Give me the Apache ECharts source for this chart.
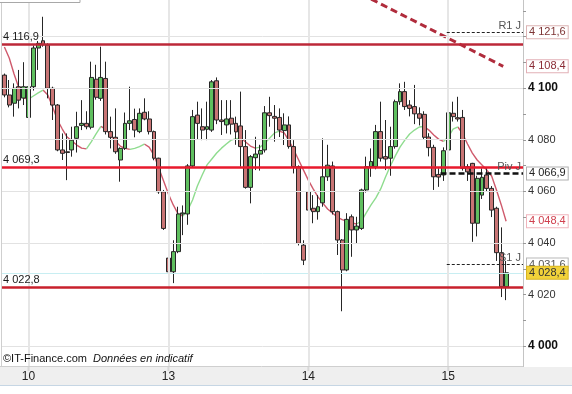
<!DOCTYPE html>
<html><head><meta charset="utf-8">
<script src="https://cdn.jsdelivr.net/npm/echarts@6/dist/echarts.min.js"></script>
<style>html,body{margin:0;padding:0;background:#fff;overflow:hidden}#c{width:572px;height:394px}</style>
</head><body><div id="c"></div>
<script>
// ---- data ----
const dayLabels = ['10', '13', '14', '15'];
const dayStartIdx = [5, 34, 63, 92];
const opens = [4105.0,4097.3,4094.1,4100.5,4096.1,4088.6,4100.5,4115.5,4118.3,4116.7,4099.9,4093.4,4076.0,4075.3,4076.0,4080.5,4085.5,4086.3,4084.8,4103.4,4096.0,4103.7,4083.1,4080.9,4072.1,4076.6,4086.3,4087.8,4083.1,4090.6,4088.0,4083.1,4072.8,4059.8,4034.1,4028.8,4036.6,4051.2,4051.2,4069.8,4089.5,4085.0,4084.0,4083.7,4102.8,4087.6,4085.7,4088.3,4086.3,4085.3,4077.3,4061.5,4073.0,4074.4,4076.0,4090.4,4089.0,4088.6,4083.5,4085.7,4077.3,4069.5,4039.1,4059.8,4053.4,4052.1,4055.5,4065.6,4069.8,4052.1,4041.1,4029.5,4050.1,4045.0,4045.6,4060.5,4069.5,4069.5,4083.1,4073.4,4072.8,4077.3,4094.7,4098.6,4093.4,4092.8,4090.0,4089.8,4081.0,4077.0,4066.5,4066.3,4076.0,4090.2,4088.5,4088.6,4069.5,4070.8,4047.6,4058.5,4066.3,4061.1,4053.4,4036.2,4023.0];
const highs = [4105.6,4103.1,4101.8,4107.0,4110.0,4101.5,4116.5,4118.2,4127.6,4117.3,4100.5,4093.8,4082.4,4082.4,4085.0,4090.8,4095.3,4091.0,4110.2,4109.0,4116.0,4110.2,4088.9,4092.1,4077.0,4090.5,4100.5,4092.0,4092.1,4096.0,4091.0,4083.5,4073.0,4060.5,4034.5,4041.0,4054.0,4054.5,4070.5,4091.5,4094.7,4092.1,4094.7,4103.1,4104.1,4095.3,4095.3,4095.3,4088.9,4098.6,4083.7,4074.0,4081.1,4078.0,4093.0,4096.6,4093.4,4092.1,4090.2,4089.0,4079.8,4070.0,4041.0,4068.9,4058.5,4058.5,4080.5,4078.0,4071.5,4052.5,4041.5,4051.5,4051.0,4050.1,4061.0,4073.4,4076.6,4085.7,4094.7,4087.6,4085.0,4095.5,4101.8,4102.4,4095.3,4101.2,4092.5,4091.0,4082.5,4078.0,4068.9,4077.0,4091.5,4094.7,4096.6,4091.5,4070.5,4071.0,4066.0,4068.9,4068.9,4062.0,4054.0,4046.0,4033.0];
const lows = [4096.4,4092.5,4088.9,4092.1,4093.4,4086.4,4099.0,4107.0,4116.0,4096.0,4087.6,4075.5,4072.1,4064.3,4073.4,4075.0,4083.7,4084.0,4084.0,4095.5,4095.0,4082.0,4076.6,4074.5,4063.7,4076.0,4083.7,4080.9,4082.5,4087.5,4082.0,4072.0,4059.0,4045.0,4013.5,4024.4,4036.0,4043.0,4047.0,4069.0,4080.0,4079.8,4079.8,4083.0,4086.0,4081.8,4082.4,4082.0,4078.0,4069.5,4061.0,4055.3,4068.2,4068.0,4075.0,4085.0,4079.2,4081.0,4077.9,4076.5,4066.9,4039.0,4031.4,4048.2,4047.6,4049.0,4054.0,4064.0,4051.0,4035.3,4013.5,4029.0,4034.6,4039.8,4045.0,4059.5,4065.6,4068.5,4071.5,4068.2,4066.0,4076.5,4093.5,4091.5,4089.0,4086.0,4085.5,4080.0,4073.5,4060.5,4061.7,4064.0,4075.5,4087.0,4087.0,4068.0,4064.0,4040.4,4042.5,4057.0,4060.0,4050.0,4033.0,4019.0,4017.8];
const closes = [4097.3,4093.4,4099.9,4095.3,4100.5,4100.5,4115.5,4117.3,4116.7,4099.9,4093.4,4076.0,4074.7,4075.0,4079.8,4085.0,4086.3,4085.0,4104.1,4096.4,4104.1,4083.1,4080.9,4075.3,4076.6,4086.3,4087.3,4083.7,4090.2,4088.0,4083.1,4072.8,4059.8,4045.6,4028.8,4036.6,4051.2,4051.6,4069.8,4088.9,4086.3,4083.7,4085.0,4102.4,4087.6,4087.0,4088.0,4086.0,4083.0,4077.3,4061.5,4073.4,4074.4,4075.8,4090.4,4089.3,4088.3,4083.7,4085.7,4077.3,4069.5,4039.8,4033.3,4052.7,4052.1,4054.0,4065.6,4070.1,4052.1,4041.1,4029.5,4049.1,4045.0,4046.5,4060.5,4069.5,4071.5,4083.1,4072.8,4072.5,4077.3,4094.7,4098.6,4092.8,4092.1,4090.0,4088.3,4080.9,4076.9,4065.6,4065.5,4075.7,4090.4,4088.9,4088.0,4068.9,4067.5,4047.6,4065.0,4065.4,4061.1,4052.7,4036.2,4023.0,4028.4];
const maValues = [4115.9,4111.6,4105.4,4100.0,4096.1,4095.7,4096.9,4098.1,4099.2,4097.3,4092.6,4087.6,4084.1,4081.0,4079.5,4077.9,4076.7,4076.4,4079.1,4082.2,4085.1,4084.1,4081.8,4079.5,4077.5,4076.6,4076.2,4076.6,4077.3,4078.3,4077.1,4074.0,4069.0,4064.0,4058.9,4054.7,4051.2,4050.4,4052.7,4056.6,4062.0,4066.3,4070.2,4072.5,4074.8,4076.7,4078.3,4079.8,4080.4,4080.6,4079.1,4077.5,4076.7,4077.1,4078.7,4080.6,4082.6,4083.3,4082.6,4079.5,4076.0,4072.1,4068.2,4064.3,4060.9,4057.8,4055.4,4053.1,4051.6,4050.0,4049.0,4048.4,4047.7,4047.3,4048.4,4051.6,4054.7,4057.4,4060.9,4065.5,4069.8,4073.6,4077.1,4079.8,4082.2,4083.7,4084.9,4085.1,4083.7,4081.8,4080.2,4079.3,4081.0,4084.1,4084.9,4082.2,4078.3,4074.8,4072.1,4070.2,4068.2,4065.9,4060.5,4054.7,4048.4];
const srLevels = [4116.9, 4069.3, 4022.8];
const pivotNames = ['R1 J', 'Piv J', 'S1 J'];
const pivotValues = [4121.6, 4066.9, 4031.6];
const pivotStartIdx = [91.7, 90.4, 91.7];
const trendPoints = [[74.0, 4136.4], [103.4, 4108.4]];
const gridLevels = [4000, 4040, 4060, 4080, 4100, 4120];
const yLabelValues = [4000, 4020, 4040, 4060, 4080, 4100];
const yBoldValues = [4000, 4100];
const yTickValues = [4000,4010,4020,4030,4040,4050,4060,4070,4080,4090,4100,4110,4120,4130];
const lastPrice = 4028.4;
const maLast = 4048.4;
const trendLast = 4108.4;

// ---- chart ----
const SLOTS = 108;
const Y_MIN = 3991.9, Y_MAX = 4134.1;
const FONT = '"Liberation Sans", Arial, sans-serif';
const cats = Array.from({length: SLOTS}, (_, i) => String(i));
const candleData = opens.map((o, i) => [o, closes[i], lows[i], highs[i]]);
const maGreen = maValues.map(() => null), maRed = maValues.map(() => null);
for (let i = 0; i < maValues.length - 1; i++) {
  const t = maValues[i + 1] >= maValues[i] ? maGreen : maRed;
  t[i] = maValues[i]; t[i + 1] = maValues[i + 1];
}
function fr(v, d) {
  const s = v.toFixed(d).split('.');
  const intp = s[0].replace(/\B(?=(\d{3})+(?!\d))/g, ' ');
  return s.length > 1 ? intp + ',' + s[1] : intp;
}
const srColors = ['#bc2838', '#e8192c', '#c8202c'];

const chart = echarts.init(document.getElementById('c'), null, {renderer: 'canvas'});
chart.setOption({
  animation: false,
  backgroundColor: '#fff',
  grid: {left: 2, right: 49, top: 0, bottom: 27},
  xAxis: [
    {type: 'category', data: cats, boundaryGap: true, axisLine: {show: false}, axisTick: {show: false}, axisLabel: {show: false}, splitLine: {show: false}},
    {type: 'value', min: -0.5, max: SLOTS - 0.5, show: false}
  ],
  yAxis: {type: 'value', min: Y_MIN, max: Y_MAX, position: 'right', axisLine: {show: false}, axisTick: {show: false}, axisLabel: {show: false}, splitLine: {show: false}},
  series: [
    {type: 'line', xAxisIndex: 1, data: [], z: 1, silent: true,
      markLine: {silent: true, symbol: ['none', 'none'], label: {show: false},
        data: gridLevels.map(v => ({yAxis: v, lineStyle: {color: '#e2e2e2', width: 1, type: 'solid'}}))
          .concat([{yAxis: lastPrice, lineStyle: {color: '#c8eef2', width: 1, type: 'solid'}}])
          .concat(dayStartIdx.map(i => ({xAxis: i, lineStyle: {color: '#e6e6e6', width: 2, type: 'solid'}})))}},
    {type: 'line', data: maRed, showSymbol: false, connectNulls: false, z: 2, silent: true,
      lineStyle: {color: '#cf5a6c', width: 1.4}},
    {type: 'line', data: maGreen, showSymbol: false, connectNulls: false, z: 2, silent: true,
      lineStyle: {color: '#8fdc8f', width: 1.4}},
    {type: 'candlestick', data: candleData, barWidth: 4.4, z: 3, silent: true,
      itemStyle: {color: '#5fbf5f', color0: '#c87474', borderColor: '#262626', borderColor0: '#262626', borderWidth: 1}},
    {type: 'line', xAxisIndex: 1, data: trendPoints, showSymbol: false, z: 4, silent: true, clip: true,
      lineStyle: {color: '#b02c3c', width: 3, type: [7, 4]}},
    {type: 'line', xAxisIndex: 1, data: [], z: 5, silent: true,
      markLine: {silent: true, symbol: ['none', 'none'],
        data: srLevels.map((v, k) => ({yAxis: v,
          lineStyle: {color: srColors[k], width: 2.6, type: 'solid'},
          label: {show: true, position: 'insideStartTop', distance: [1, 2], formatter: fr(v, 1), color: '#1a1a1a', fontSize: 11, fontFamily: FONT}}))}},
    {type: 'line', xAxisIndex: 1, data: [], z: 6, silent: true,
      markLine: {silent: true, symbol: ['none', 'none'],
        data: pivotValues.map((v, k) => [
          {coord: [pivotStartIdx[k], v],
           lineStyle: k === 1 ? {color: '#111', width: 2.5, type: [6, 3]} : {color: '#222', width: 1, type: [3, 2]},
           label: {show: true, position: 'insideEndTop', distance: [2, 1], formatter: pivotNames[k], color: '#555', fontSize: 11, fontFamily: FONT}},
          {coord: [SLOTS - 0.5, v]}])}}
  ]
});

const py = v => chart.convertToPixel({yAxisIndex: 0}, v);
const px = i => chart.convertToPixel({xAxisIndex: 1}, i);
const gTop = py(Y_MAX), gBot = py(Y_MIN), gLeft = px(-0.5), gRight = px(SLOTS - 0.5);
const g = [];
g.push({type: 'rect', z: 50, shape: {x: 0, y: gBot, width: 572, height: 18}, style: {fill: '#efefef'}});
g.push({type: 'line', z: 51, shape: {x1: 0, y1: gBot + 18.5, x2: 572, y2: gBot + 18.5}, style: {stroke: '#c6d6e4', lineWidth: 1}});
g.push({type: 'line', z: 51, shape: {x1: 0, y1: gBot - 0.5, x2: gRight, y2: gBot - 0.5}, style: {stroke: '#cfcfcf', lineWidth: 1}});
g.push({type: 'line', z: 51, shape: {x1: gLeft - 0.5, y1: 0, x2: gLeft - 0.5, y2: gBot}, style: {stroke: '#cfcfcf', lineWidth: 1}});
g.push({type: 'line', z: 51, shape: {x1: gRight + 0.5, y1: 0, x2: gRight + 0.5, y2: gBot}, style: {stroke: '#c4c4c4', lineWidth: 1}});
dayStartIdx.forEach((idx, k) => {
  const x = px(idx);
  g.push({type: 'line', z: 52, shape: {x1: x, y1: gBot, x2: x, y2: gBot + 4}, style: {stroke: '#d8d8d8', lineWidth: 2}});
  g.push({type: 'text', z: 52, x: x, y: gBot + 10, style: {text: dayLabels[k], fill: '#222', font: '12px ' + FONT, align: 'center', verticalAlign: 'middle'}});
});
yTickValues.forEach(v => {
  const y = Math.round(py(v)) + 0.5;
  g.push({type: 'line', z: 52, shape: {x1: gRight, y1: y, x2: gRight + 3, y2: y}, style: {stroke: '#999', lineWidth: 1}});
});
yLabelValues.forEach(v => {
  const bold = yBoldValues.indexOf(v) >= 0;
  g.push({type: 'text', z: 53, x: gRight + 5, y: py(v), style: {text: fr(v, 0), fill: bold ? '#111' : '#333', font: (bold ? 'bold 12px ' : '11px ') + FONT, verticalAlign: 'middle'}});
});
const boxes = [
  {v: pivotValues[0], fill: '#fff', text: '#7d3434', border: '#dcb4b4'},
  {v: trendLast, fill: '#fff', text: '#8a2a34', border: '#e2b0b6'},
  {v: pivotValues[1], fill: '#fff', text: '#222', border: '#b0b0b0'},
  {v: maLast, fill: '#fff', text: '#d0404e', border: '#f0b4bc'},
  {v: pivotValues[2], fill: '#fff', text: '#555', border: '#b8b8b8'},
  {v: lastPrice, fill: '#f2d23a', text: '#333', border: '#d8b420'}
];
boxes.forEach((b, k) => {
  g.push({type: 'text', z: 60 + k, x: gRight + 4, y: py(b.v), style: {text: fr(b.v, 1), fill: b.text, font: '11px ' + FONT, verticalAlign: 'middle',
    backgroundColor: b.fill, borderColor: b.border, borderWidth: 1, padding: [1, 2, 0, 2]}});
});
g.push({type: 'text', z: 55, x: 3, y: gBot - 8, style: {text: '\u00a9IT-Finance.com', fill: '#111', font: '11px ' + FONT, verticalAlign: 'middle'}});
g.push({type: 'text', z: 55, x: 93, y: gBot - 8, style: {text: 'Donn\u00e9es en indicatif', fill: '#111', font: 'italic 11px ' + FONT, verticalAlign: 'middle'}});
g.push({type: 'rect', z: 55, shape: {x: -1, y: -12, width: 81, height: 14.5}, style: {fill: '#fff', stroke: '#a8a8a8', lineWidth: 1}});
chart.setOption({graphic: g});
</script>
</body></html>
